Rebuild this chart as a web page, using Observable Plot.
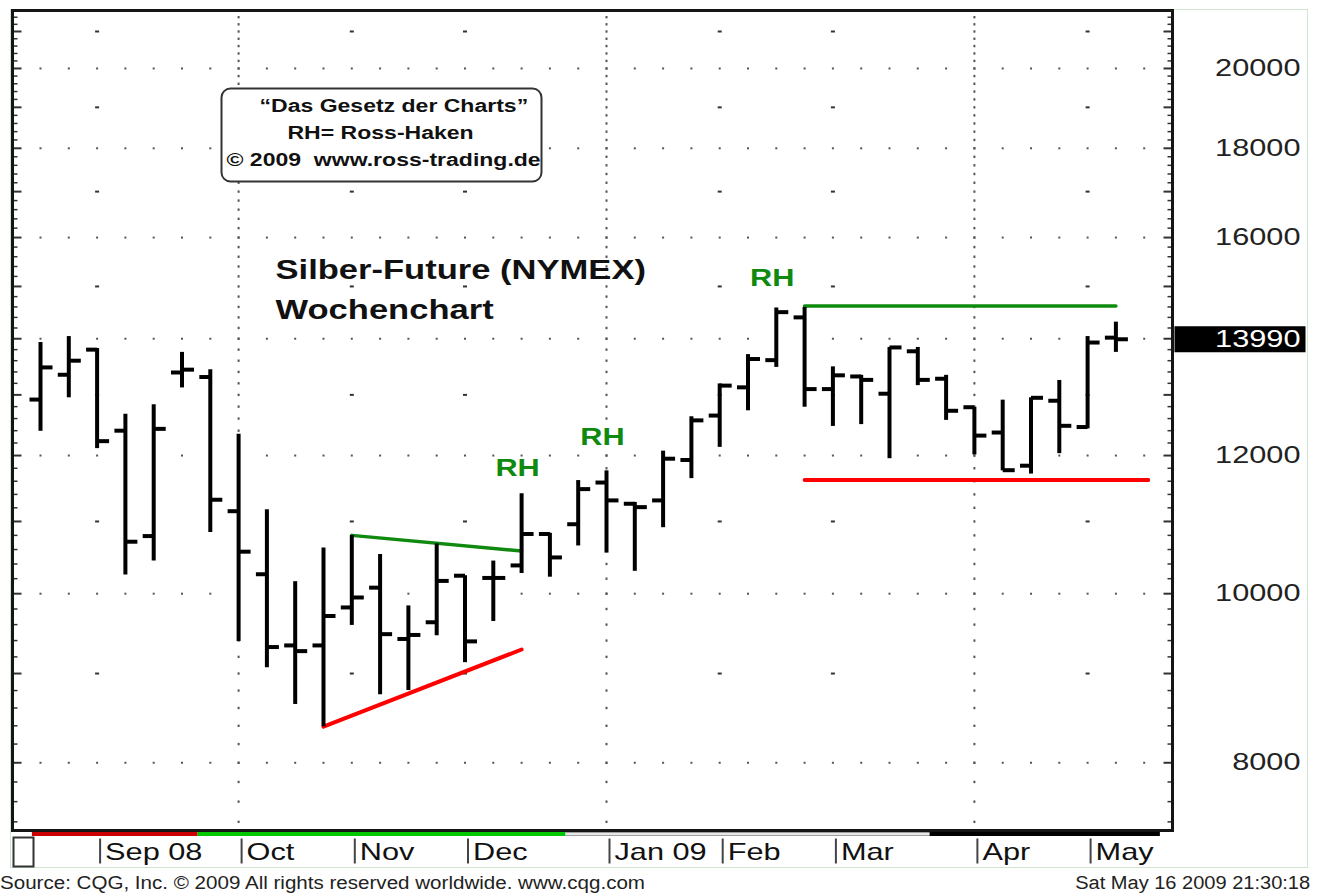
<!DOCTYPE html>
<html>
<head>
<meta charset="utf-8">
<script src="https://cdn.jsdelivr.net/npm/d3@7"></script>
<script src="https://cdn.jsdelivr.net/npm/@observablehq/plot@0.6"></script>
<style>
  body { margin: 0; background: #fff; }
  #wrap { position: relative; width: 1322px; height: 893px; overflow: hidden; font-family: "Liberation Sans", Arial, sans-serif; }
  #border { position: absolute; left: 10px; top: 9px; width: 1298px; height: 859px; border: 1px solid #cfe6cf; box-sizing: border-box; }
  #chart { position: absolute; left: 0; top: 0; }
  .foot { position: absolute; top: 873px; font-size: 18px; color: #222; white-space: nowrap; line-height: 20px; }
  #footL { left: 0; transform-origin: left center; }
  #footR { right: 12px; transform-origin: right center; }
</style>
</head>
<body>
<div id="wrap">
  <div id="border"></div>
  <div id="chart"></div>
  <div class="foot" id="footL">Source: CQG, Inc. © 2009 All rights reserved worldwide. www.cqg.com</div>
  <div class="foot" id="footR">Sat May 16 2009 21:30:18</div>
</div>
<script>
// ---- Data (weekly bars, Silber-Future NYMEX) ----
const weeks = ["2008-08-18","2008-08-25","2008-09-01","2008-09-08","2008-09-15","2008-09-22","2008-09-29","2008-10-06","2008-10-13","2008-10-20","2008-10-27","2008-11-03","2008-11-10","2008-11-17","2008-11-24","2008-12-01","2008-12-08","2008-12-15","2008-12-22","2008-12-29","2009-01-05","2009-01-12","2009-01-19","2009-01-26","2009-02-02","2009-02-09","2009-02-16","2009-02-23","2009-03-02","2009-03-09","2009-03-16","2009-03-23","2009-03-30","2009-04-06","2009-04-13","2009-04-20","2009-04-27","2009-05-04","2009-05-11"];
const open  = [12920,13350,13800,12400,10790,13390,13310,11150,10260,9340,9340,9820,10080,9420,9630,10240,10210,10380,10820,10960,11580,11260,11310,11930,12650,13130,13610,14400,13100,13320,13020,13770,13280,12790,12370,11840,12900,12460,14020];
const high  = [13930,14040,13820,12670,12830,13750,13440,12340,11170,10160,10620,10800,10530,9840,10680,10240,10440,11410,10830,11610,11760,11280,12070,12630,13190,13710,14580,14590,13490,13340,13840,13840,13340,12790,12910,12950,13250,14040,14310];
const low   = [12390,12950,12110,10250,10440,13120,10840,9390,9070,8640,8390,9590,8750,8800,9460,9130,9640,10270,10220,10650,10550,10300,10910,11640,12130,12730,13480,12790,12470,12500,11950,13160,12570,12010,11760,11710,12030,12430,13750];
const close = [13480,13600,12230,10710,12430,13440,11320,10570,9320,9270,9710,9950,9480,9470,10170,9390,10210,10820,10490,11480,11310,11210,11950,12570,13160,13630,14500,13100,13340,13260,13840,13260,12730,12320,11770,12950,12480,13930,13990];

// trend lines
const triTopDates = ["2008-11-03","2008-12-15"];
const triTopVals = [10800,10580];
const triBotDates = ["2008-10-27","2008-12-15"];
const triBotVals = [8390,9290];
const resistDates = ["2009-02-23","2009-05-11"];
const resistVals = [14620,14620];
const supportDates = ["2009-02-23","2009-05-19"];
const supportVals = [11620,11620];

// RH labels
const rhDates = ["2008-12-14","2009-01-04","2009-02-15"];
const rhVals = [11800,12290,15160];
const rhText = ["RH","RH","RH"];

// axis labels
const monthDates = ["2008-09-01","2008-10-06","2008-11-03","2008-12-01","2009-01-05","2009-02-02","2009-03-02","2009-04-06","2009-05-04"];
const monthLabels = ["Sep 08","Oct","Nov","Dec","Jan 09","Feb","Mar","Apr","May"];
const quarterDates = ["2008-10-06","2009-01-05","2009-04-06"];
const otherMonthDates = ["2008-09-01","2008-11-03","2008-12-01","2009-02-02","2009-03-02","2009-05-04"];
const priceTicks = [8000,10000,12000,14000,16000,18000,20000];
const lastPrice = 13990;

// contract band under the time axis
const bandStart = ["2008-08-16","2008-09-26","2008-12-26","2009-03-26"];
const bandEnd   = ["2008-09-26","2008-12-26","2009-03-26","2009-05-22"];
const bandColor = ["#cc0000","#00c800","#a0a0a0","#000000"];

// text annotations
const titleLines = ["Silber-Future (NYMEX)","Wochenchart"];
const boxLines = ["\u201CDas Gesetz der Charts\u201D","RH= Ross-Haken","\u00A9 2009  www.ross-trading.de"];

// ---- Build ----
const P = d3.utcParse("%Y-%m-%d");
const bars = weeks.map((w, i) => ({date: P(w), open: open[i], high: high[i], low: low[i], close: close[i]}));
const pts = (ds, vs) => ds.map((d, i) => ({date: P(d), v: vs[i]}));
const gridWeeks = d3.utcMonday.range(P(weeks[0]), d3.utcDay.offset(P(weeks[weeks.length - 1]), 8));
const evenLevels = priceTicks;
const oddLevels = d3.range(9000, 21001, 2000);
const minorLevels = d3.range(7400, 21500, 200);
const majorLevels = minorLevels.filter(v => v % 1000 === 0);
const smallLevels = minorLevels.filter(v => v % 1000 !== 0);
const cross = (xs, ys) => xs.flatMap(x => ys.map(y => ({date: x, v: y})));
const bands = bandStart.map((s, i) => ({x1: P(s), x2: P(bandEnd[i]), c: bandColor[i]}));

const seg = (x0, y0, x1, y1) => ({draw(ctx) { ctx.moveTo(x0, y0); ctx.lineTo(x1, y1); }});
const sq = (x, y, w, h) => ({draw(ctx) { ctx.rect(x, y, w, h); }});
const rbox = (x, y, w, h, r) => ({draw(ctx) {
  ctx.moveTo(x + r, y); ctx.lineTo(x + w - r, y); ctx.arcTo(x + w, y, x + w, y + r, r);
  ctx.lineTo(x + w, y + h - r); ctx.arcTo(x + w, y + h, x + w - r, y + h, r);
  ctx.lineTo(x + r, y + h); ctx.arcTo(x, y + h, x, y + h - r, r);
  ctx.lineTo(x, y + r); ctx.arcTo(x, y, x + r, y, r); ctx.closePath();
}});

const FONT = "Liberation Sans, Arial, Helvetica, sans-serif";
const GREEN = "#0f8a0f";

const chart = Plot.plot({
  width: 1322,
  height: 870,
  marginTop: 10,
  marginLeft: 12,
  marginRight: 150,
  marginBottom: 40,
  style: {fontFamily: FONT, background: "transparent", overflow: "visible"},
  x: {type: "utc", domain: [new Date("2008-08-11T01:47Z"), new Date("2009-05-25T00:00Z")], axis: null},
  y: {type: "log", domain: [7316, 21590], axis: null},
  color: {type: "identity"},
  marks: [
    // grid: dots on even-thousand rows at every week
    Plot.dot(cross(gridWeeks, evenLevels), {x: "date", y: "v", r: 2, symbol: sq(-1, -1, 2, 2), fill: "#555", stroke: "none"}),
    // dotted quarter lines
    Plot.dot(cross(quarterDates.map(P), minorLevels), {x: "date", y: "v", r: 2, symbol: seg(0, -1.2, 0, 1.2), stroke: "#555", strokeWidth: 2, fill: "none"}),
    // month dashes at odd thousands
    Plot.dot(cross(otherMonthDates.map(P), oddLevels), {x: "date", y: "v", r: 2, symbol: seg(-2, 0, 2, 0), stroke: "#333", strokeWidth: 2, fill: "none"}),
    // axis ticks left/right
    Plot.dot(majorLevels, {y: d => d, frameAnchor: "left", r: 2, symbol: seg(0, 0, 9, 0), stroke: "#333", strokeWidth: 2, fill: "none"}),
    Plot.dot(smallLevels, {y: d => d, frameAnchor: "left", r: 2, symbol: seg(0, 0, 5, 0), stroke: "#333", strokeWidth: 1.5, fill: "none"}),
    Plot.dot(majorLevels, {y: d => d, frameAnchor: "right", r: 2, symbol: seg(-9, 0, 0, 0), stroke: "#333", strokeWidth: 2, fill: "none"}),
    Plot.dot(smallLevels, {y: d => d, frameAnchor: "right", r: 2, symbol: seg(-5, 0, 0, 0), stroke: "#333", strokeWidth: 1.5, fill: "none"}),
    // info box
    Plot.dot([0], {frameAnchor: "top-left", r: 2, symbol: rbox(209, 78, 320, 93, 9), fill: "white", stroke: "#333", strokeWidth: 2}),
    Plot.text([boxLines[0]], {frameAnchor: "top-left", lineAnchor: "middle", text: d => d, dx: 247, dy: 96, textAnchor: "start", fontSize: 18, fontWeight: "bold", fill: "#111"}),
    Plot.text([boxLines[1]], {frameAnchor: "top-left", lineAnchor: "middle", text: d => d, dx: 275, dy: 123, textAnchor: "start", fontSize: 18, fontWeight: "bold", fill: "#111"}),
    Plot.text([boxLines[2]], {frameAnchor: "top-left", lineAnchor: "middle", text: d => d, dx: 214, dy: 150, textAnchor: "start", fontSize: 18, fontWeight: "bold", fill: "#111"}),
    // title
    Plot.text([titleLines[0]], {frameAnchor: "top-left", lineAnchor: "middle", text: d => d, dx: 263, dy: 260, textAnchor: "start", fontSize: 27, fontWeight: "bold", fill: "#111"}),
    Plot.text([titleLines[1]], {frameAnchor: "top-left", lineAnchor: "middle", text: d => d, dx: 263, dy: 300, textAnchor: "start", fontSize: 27, fontWeight: "bold", fill: "#111"}),
    // trend lines
    Plot.line(pts(triTopDates, triTopVals), {x: "date", y: "v", stroke: GREEN, strokeWidth: 3.5}),
    Plot.line(pts(resistDates, resistVals), {x: "date", y: "v", stroke: GREEN, strokeWidth: 3.5}),
    Plot.line(pts(triBotDates, triBotVals), {x: "date", y: "v", stroke: "#ff0000", strokeWidth: 4}),
    Plot.line(pts(supportDates, supportVals), {x: "date", y: "v", stroke: "#ff0000", strokeWidth: 4}),
    // OHLC bars
    Plot.ruleX(bars, {x: "date", y1: "low", y2: "high", stroke: "#000", strokeWidth: 4}),
    Plot.dot(bars, {x: "date", y: "open", r: 2, symbol: seg(-11, 0, 0, 0), stroke: "#000", strokeWidth: 4, fill: "none", strokeLinecap: "butt"}),
    Plot.dot(bars, {x: "date", y: "close", r: 2, symbol: seg(0, 0, 12, 0), stroke: "#000", strokeWidth: 4, fill: "none", strokeLinecap: "butt"}),
    // RH labels
    Plot.text(rhDates.map((d, i) => ({date: P(d), v: rhVals[i], t: rhText[i]})), {x: "date", y: "v", text: "t", fill: GREEN, fontSize: 24, fontWeight: "bold"}),
    // frame
    Plot.frame({stroke: "#151515", strokeWidth: 3}),
    // band under axis
    Plot.ruleY(bands, {y: () => 7316, x1: "x1", x2: "x2", stroke: "c", strokeWidth: 4, dy: 3.5}),
    Plot.ruleY(bands.filter(b => b.c === "#a0a0a0"), {y: () => 7316, x1: "x1", x2: "x2", stroke: "#fff", strokeWidth: 1.5, dy: 3.5}),
    // time axis separators and labels
    Plot.dot(monthDates.map(P), {x: d => d, frameAnchor: "bottom", r: 2, symbol: seg(0, 8, 0, 33), stroke: "#444", strokeWidth: 2, fill: "none", dx: 3}),
    Plot.dot([0], {frameAnchor: "bottom-left", r: 2, symbol: sq(1, 7, 20, 29), fill: "white", stroke: "#333", strokeWidth: 2}),
    Plot.text(monthLabels.map((t, i) => ({date: P(monthDates[i]), t})), {x: "date", text: "t", frameAnchor: "bottom", lineAnchor: "middle", dx: 8, dy: 22, textAnchor: "start", fontSize: 24, letterSpacing: 1.5, fill: "#111"}),
    // price axis
    Plot.text(priceTicks, {y: d => d, text: d => String(d), frameAnchor: "right", lineAnchor: "middle", dx: 128, textAnchor: "end", fontSize: 24, letterSpacing: 0.5, fill: "#222"}),
    Plot.dot([lastPrice], {y: d => d, frameAnchor: "right", r: 2, symbol: sq(2, -13, 131, 26), fill: "#000", stroke: "none"}),
    Plot.text([lastPrice], {y: d => d, text: d => String(d), frameAnchor: "right", lineAnchor: "middle", dx: 128, textAnchor: "end", fontSize: 24, letterSpacing: 0.5, fill: "#fff"})
  ]
});

// the reference's lettering is horizontally stretched
chart.querySelectorAll("text").forEach(t => {
  const tr = t.getAttribute("transform") || "";
  t.setAttribute("transform", tr + " scale(1.28,1)");
});
document.getElementById("chart").appendChild(chart);

const fit = (id, w) => {
  const el = document.getElementById(id);
  const nat = el.getBoundingClientRect().width;
  el.style.transform = `scaleX(${w / nat})`;
};
fit("footL", 645);
fit("footR", 235);
</script>
</body>
</html>
